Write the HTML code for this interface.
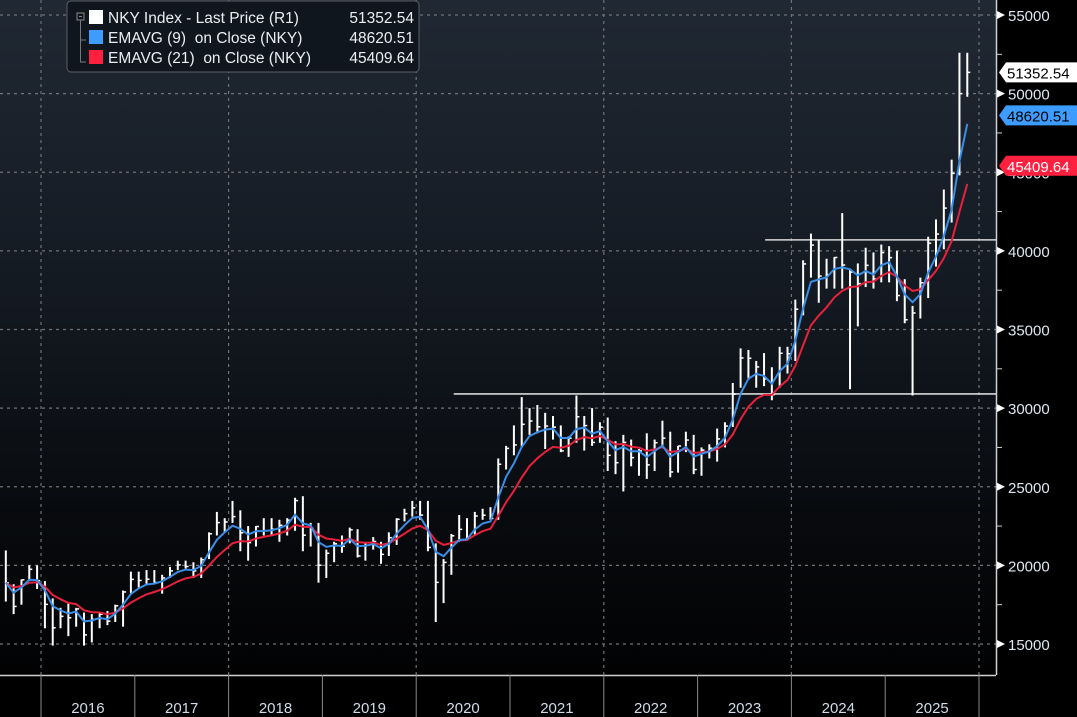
<!DOCTYPE html>
<html><head><meta charset="utf-8"><style>
html,body{margin:0;padding:0;background:#000;}
#wrap{position:relative;width:1077px;height:717px;overflow:hidden;
background:linear-gradient(#202833 0%,#141a22 40%,#07090c 75%,#000 100%);font-family:"Liberation Sans",sans-serif;}
svg{position:absolute;left:0;top:0;}
</style></head><body>
<div id="wrap">
<svg id="chart" width="1077" height="717"></svg>
</div>
<script>
const startYear = 2015, startMonth = 7; // Aug 2015 (0-based month index)
const closes = [18890,17390,19080,19750,19030,
17520,16030,16760,16670,17230,15580,16570,16890,16450,17430,18310,19110,
19040,19120,18910,19200,19650,20030,19930,19650,20360,22010,22720,22760,
23100,22070,21450,22470,22200,22300,22550,22870,24120,21920,22350,20010,
20770,21380,21210,22260,20600,21280,21520,20700,21760,22930,23290,23660,
23200,21140,18920,20190,21880,22290,21710,23140,23190,22980,26430,27440,
27660,28970,29180,28810,28860,28790,27280,28090,29450,28890,27820,28790,
27000,26530,27820,26850,27280,26390,27800,28090,25940,27590,27970,26090,
27330,27450,28040,28860,30890,33190,33170,32620,31860,30860,33490,33460,
36290,39170,40370,38400,38490,39580,39100,38650,37920,39080,38210,39890,
39570,37160,35620,36050,37970,40490,41070,42720,44930,50000,51352];
const highs = [20950,18800,19100,20000,20000,
19000,17900,17300,17600,17300,17000,16900,17000,17100,17500,18400,19600,
19600,19700,19700,19400,19900,20300,20300,20200,20500,22100,23400,23000,
24100,23500,22500,22500,23000,23000,22900,23000,24300,24400,22700,22700,
21000,21500,21900,22400,22300,21400,21800,21500,22100,23000,23600,24100,
24100,24100,21400,20400,22000,23200,23000,23400,23600,23700,26800,27600,
28900,30700,30000,30200,29700,29500,28900,28200,30800,29500,30000,29100,
29400,27900,28300,28000,27400,28400,28000,29200,28500,27600,28500,28300,
27500,27700,28700,29100,31600,33800,33700,33000,33500,32600,33900,33900,
36900,39400,41100,40700,39500,39600,42400,38800,39200,40200,39900,40400,
40300,40000,38200,36500,38300,40900,42000,43900,45800,52600,52600];
const lows = [17700,16900,17500,19000,18500,
16000,14900,16000,15500,16100,14900,15100,16000,16200,16400,16100,18200,
18600,18800,18900,18200,19200,19700,19800,19200,19200,20400,21900,22100,
22700,20900,20300,21200,21900,21900,21500,21900,22200,20900,21200,18900,
19200,20200,20800,21400,20500,20300,21000,20100,20600,21300,22800,23100,
22900,20900,16400,17600,19400,21500,21700,21900,22900,22900,22900,26100,
27000,27500,28300,28400,27400,28000,27200,26900,27800,27300,27600,27800,
26000,25800,24700,26300,25700,25500,26000,27600,25600,25900,27200,25800,
25700,26800,26600,27500,28800,31300,31800,31300,31400,30500,31300,32200,
33000,35900,38300,36700,37600,37600,37600,31200,35200,37700,37600,38000,
38000,36800,35400,30800,35700,37000,39000,40100,41800,44800,49800];
const yTicks = [15000,20000,25000,30000,35000,40000,45000,50000,55000];
const yearLabels = ["2016","2017","2018","2019","2020","2021","2022","2023","2024","2025"];
const hLines = [{v:30900,from:2020.4},{v:40700,from:2023.72}];
const lastPrice = 51352.54, ema9Last = 48620.51, ema21Last = 45409.64;

const NS="http://www.w3.org/2000/svg";
const svg=document.getElementById('chart');
const Y=v=>15+(55000-v)*0.015725;
const X=t=>41+(t-2016)*93.8;
function mk(tag,attrs,parent){const e=document.createElementNS(NS,tag);for(const k in attrs)e.setAttribute(k,attrs[k]);(parent||svg).appendChild(e);return e;}

const grid=mk('g',{});


yTicks.forEach(v=>{mk('line',{x1:0,x2:996,y1:Y(v),y2:Y(v),stroke:'#6d7278','stroke-width':1.2,'stroke-dasharray':'3,4'},grid);});
for(let yr=2016;yr<=2026;yr+=2){mk('line',{x1:X(yr),x2:X(yr),y1:0,y2:675,stroke:'#6d7278','stroke-width':1.2,'stroke-dasharray':'3,4'},grid);}

hLines.forEach(h=>{const l=mk('line',{x1:X(h.from),x2:996,y1:Y(h.v),y2:Y(h.v),stroke:'#d8d8d8','stroke-width':1.6});

});

const tOf=i=>startYear+(startMonth+i+0.5)/12;
const bars=mk('g',{});


closes.forEach((c,i)=>{const x=X(tOf(i));
mk('line',{x1:x,x2:x,y1:Y(highs[i]),y2:Y(lows[i]),stroke:'#fff','stroke-width':2},bars);
mk('line',{x1:x,x2:x+3,y1:Y(c),y2:Y(c),stroke:'#fff','stroke-width':1.5},bars);});

function ema(a){let e=closes[0];return closes.map(c=>(e=e+a*(c-e)));}
function path(vals,color,name){const d=vals.map((v,i)=>(i?'L':'M')+X(tOf(i)).toFixed(1)+','+Y(v).toFixed(1)).join('');
const p=mk('path',{d:d,fill:'none',stroke:color,'stroke-width':2});

}
path(ema(0.2),'#e8203c','ema21-line');
path(ema(0.42),'#3a8ee8','ema9-line');

mk('rect',{x:0,y:675,width:996,height:42,fill:'#000'});
mk('line',{x1:0,x2:996,y1:675.5,y2:675.5,stroke:'#d0d0d0','stroke-width':1.5});
for(let yr=2016;yr<=2026;yr++){mk('line',{x1:X(yr),x2:X(yr),y1:675,y2:717,stroke:'#8a8a8a','stroke-width':1});}
yearLabels.forEach((s,i)=>{const t=mk('text',{x:X(2016+i+0.5),y:713,fill:'#cfdcea','font-size':15,'text-anchor':'middle'});t.textContent=s;

});

mk('rect',{x:996,y:0,width:81,height:717,fill:'#000'});
mk('line',{x1:996.5,x2:996.5,y1:0,y2:675,stroke:'#d0d0d0','stroke-width':1.5});
for(let v=15000;v<=55000;v+=2500){mk('line',{x1:996,x2:1002,y1:Y(v),y2:Y(v),stroke:'#d0d0d0','stroke-width':1});}
yTicks.forEach(v=>{mk('path',{d:`M997,${Y(v)-4}L1005,${Y(v)}L997,${Y(v)+4}Z`,fill:'#fff'});
const t=mk('text',{x:1008,y:Y(v)+6,fill:'#dfe6ee','font-size':15});t.textContent=v;

});

function tag(v,bg,fg,name){const y=Y(v);const g=mk('g',{});


mk('path',{d:`M999,${y}L1006,${y-10}L1077,${y-10}L1077,${y+10}L1006,${y+10}Z`,fill:bg},g);
const t=mk('text',{x:1007,y:y+6,fill:fg,'font-size':15},g);t.textContent=v.toFixed(2);}
tag(lastPrice,'#ffffff','#000','last-price-tag');
tag(ema9Last,'#3d9cff','#000','ema9-tag');
tag(ema21Last,'#ff1f3f','#fff','ema21-tag');

const lg=mk('g',{});


mk('rect',{x:67,y:1,width:352,height:71,rx:4,fill:'#10161d',stroke:'#5a5f66','stroke-width':1},lg);
mk('rect',{x:77,y:13,width:7,height:7,fill:'none',stroke:'#888'},lg);
mk('line',{x1:79,x2:82,y1:16.5,y2:16.5,stroke:'#888'},lg);
mk('path',{d:'M80.5,20V62H86M80.5,40H86',fill:'none',stroke:'#777'},lg);
const items=[['#ffffff','NKY Index - Last Price (R1)','51352.54','legend-last-price'],['#3d9cff','EMAVG (9)  on Close (NKY)','48620.51','legend-ema9'],['#ff1f3f','EMAVG (21)  on Close (NKY)','45409.64','legend-ema21']];
items.forEach((it,i)=>{const y=10+i*20;
const gi=mk('g',{},lg);


mk('rect',{x:89,y:y,width:14,height:14,fill:it[0]},gi);
const t=mk('text',{x:108,y:y+13,fill:'#e8eef4','font-size':15.5},gi);t.textContent=it[1];t.style.whiteSpace='pre';
const t2=mk('text',{x:414,y:y+13,fill:'#e8eef4','font-size':15.5,'text-anchor':'end'},gi);t2.textContent=it[2];});
</script>
</body></html>
